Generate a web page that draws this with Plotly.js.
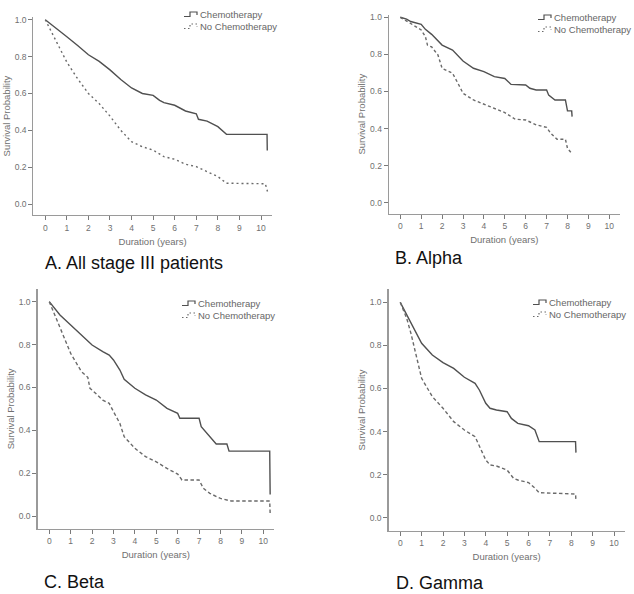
<!DOCTYPE html>
<html>
<head>
<meta charset="utf-8">
<script src="https://cdn.plot.ly/plotly-3.0.1.min.js"></script>
<style>html,body{margin:0;padding:0;background:#fff;}#chart{width:634px;height:594px;}</style>
</head>
<body>
<div id="chart"></div>
<script>
// ---- Data ----
var panelTitles = ["A. All stage III patients", "B. Alpha", "C. Beta", "D. Gamma"];
var seriesNames = ["Chemotherapy", "No Chemotherapy"];
var xTickVals = [0, 1, 2, 3, 4, 5, 6, 7, 8, 9, 10];
var yTickVals = [0.0, 0.2, 0.4, 0.6, 0.8, 1.0];

var aChemoT = [0, 0.45, 1, 1.5, 2, 2.5, 3, 3.5, 4, 4.5, 5, 5.3, 5.5, 6, 6.3, 6.5, 7, 7.1, 7.5, 8, 8.4, 10.28, 10.29];
var aChemoS = [1, 0.96, 0.908, 0.86, 0.81, 0.774, 0.728, 0.676, 0.63, 0.60, 0.59, 0.563, 0.55, 0.536, 0.518, 0.505, 0.49, 0.46, 0.45, 0.42, 0.378, 0.378, 0.29];
var aNoT = [0, 0.5, 1, 1.5, 2, 2.5, 3, 3.5, 4, 4.5, 5, 5.5, 6, 6.5, 7, 7.5, 8, 8.4, 10.2, 10.3];
var aNoS = [1, 0.885, 0.77, 0.68, 0.60, 0.545, 0.477, 0.40, 0.338, 0.311, 0.293, 0.257, 0.243, 0.216, 0.203, 0.176, 0.149, 0.113, 0.11, 0.068];

var bChemoT = [0, 0.3, 0.5, 1, 1.2, 1.5, 2, 2.5, 3, 3.5, 4, 4.5, 5, 5.3, 6, 6.2, 6.5, 7, 7.1, 7.4, 7.9, 7.95, 8.0, 8.2, 8.22];
var bChemoS = [1, 0.99, 0.977, 0.962, 0.935, 0.908, 0.85, 0.823, 0.764, 0.725, 0.707, 0.68, 0.67, 0.638, 0.635, 0.617, 0.608, 0.608, 0.58, 0.554, 0.554, 0.518, 0.495, 0.495, 0.464];
var bNoT = [0, 0.5, 1, 1.2, 1.3, 1.5, 1.8, 2, 2.5, 2.8, 3, 3.5, 4, 4.5, 5, 5.5, 6, 6.5, 7, 7.2, 7.5, 7.9, 8.0, 8.2];
var bNoS = [1, 0.968, 0.932, 0.896, 0.85, 0.84, 0.797, 0.725, 0.698, 0.635, 0.59, 0.554, 0.532, 0.509, 0.486, 0.45, 0.446, 0.42, 0.406, 0.374, 0.342, 0.342, 0.293, 0.266];

var cChemoT = [0, 0.5, 1, 1.5, 1.8, 2, 2.5, 2.8, 3, 3.3, 3.5, 4, 4.5, 5, 5.5, 6, 6.1, 7, 7.1, 7.3, 7.5, 7.7, 7.8, 8.3, 8.4, 10.3, 10.31, 10.32];
var cChemoS = [1, 0.938, 0.891, 0.845, 0.82, 0.798, 0.767, 0.751, 0.728, 0.681, 0.638, 0.596, 0.565, 0.541, 0.502, 0.479, 0.456, 0.456, 0.417, 0.393, 0.37, 0.347, 0.336, 0.336, 0.303, 0.303, 0.191, 0.101];
var cNoT = [0, 0.5, 1, 1.5, 1.8, 1.9, 2, 2.5, 2.8, 3, 3.3, 3.5, 4, 4.5, 5, 5.5, 6, 6.2, 7, 7.2, 7.5, 8, 8.5, 10.3, 10.32];
var cNoS = [1, 0.876, 0.759, 0.674, 0.647, 0.596, 0.588, 0.541, 0.526, 0.487, 0.432, 0.37, 0.316, 0.277, 0.253, 0.222, 0.196, 0.168, 0.168, 0.129, 0.106, 0.082, 0.07, 0.07, 0.012];

var dChemoT = [0, 0.3, 0.5, 1, 1.5, 2, 2.5, 3, 3.5, 3.7, 4, 4.2, 4.5, 5, 5.2, 5.5, 6, 6.3, 6.5, 8.2, 8.22];
var dChemoS = [1, 0.941, 0.902, 0.81, 0.755, 0.72, 0.693, 0.652, 0.624, 0.593, 0.531, 0.508, 0.5, 0.492, 0.461, 0.438, 0.427, 0.407, 0.353, 0.353, 0.302];
var dNoT = [0, 0.3, 0.5, 1, 1.5, 2, 2.5, 3, 3.5, 3.8, 4, 4.2, 4.5, 5, 5.3, 5.5, 6, 6.3, 6.5, 8.2, 8.22];
var dNoS = [1, 0.926, 0.856, 0.647, 0.562, 0.508, 0.446, 0.407, 0.376, 0.314, 0.268, 0.245, 0.24, 0.221, 0.183, 0.175, 0.163, 0.137, 0.116, 0.11, 0.08];

// ---- Layout helpers ----
var W = 634, H = 594;
function px(x) { return x / W; }
function py(y) { return 1 - y / H; }

// plot areas in pixels: [left, right, top, bottom], y-range
var panels = [
  {box: [33.4, 271.8, 17, 215.1], yr: [-0.06, 1.015], dash: "2px,3px",
   chemo: [aChemoT, aChemoS], no: [aNoT, aNoS], title: [43, 263], leg: [184, 14]},
  {box: [388.8, 619.75, 14.5, 213.8], yr: [-0.06, 1.015], dash: "3px,2.5px",
   chemo: [bChemoT, bChemoS], no: [bNoT, bNoS], title: [393, 258], leg: [538, 17]},
  {box: [37.5, 274, 288.8, 528.9], yr: [-0.06, 1.06], dash: "3.5px,2.5px",
   chemo: [cChemoT, cChemoS], no: [cNoT, cNoS], title: [42, 582], leg: [182, 303]},
  {box: [388.5, 624.7, 289.4, 530.6], yr: [-0.06, 1.06], dash: "3.5px,2.5px",
   chemo: [dChemoT, dChemoS], no: [dNoT, dNoS], title: [394, 583], leg: [533, 302]}
];

var axisGray = "#9a9a9a";
var textGray = "#707070";
var solidColor = "#505050";
var dashColor = "#6a6a6a";

var traces = [];
var layout = {
  width: W, height: H,
  margin: {l: 0, r: 0, t: 0, b: 0},
  paper_bgcolor: "#ffffff", plot_bgcolor: "#ffffff",
  showlegend: false,
  font: {family: "Liberation Sans, Arial, sans-serif", color: textGray},
  annotations: [], shapes: []
};

panels.forEach(function (p, i) {
  var n = i === 0 ? "" : String(i + 1);
  var xa = "x" + n, ya = "y" + n;
  traces.push({
    x: p.chemo[0], y: p.chemo[1], xaxis: xa, yaxis: ya, type: "scatter", mode: "lines",
    name: seriesNames[0], line: {color: solidColor, width: 1.4, shape: "linear"}, hoverinfo: "x+y"
  });
  traces.push({
    x: p.no[0], y: p.no[1], xaxis: xa, yaxis: ya, type: "scatter", mode: "lines",
    name: seriesNames[1], line: {color: dashColor, width: 1.4, dash: p.dash, shape: "linear"}, hoverinfo: "x+y"
  });
  var common = {
    showline: true, linecolor: axisGray, linewidth: 1.2, mirror: false,
    showgrid: false, zeroline: false, ticks: "outside", ticklen: 4, tickwidth: 1,
    tickcolor: "#7a7a7a", tickfont: {size: 8.5, color: textGray, family: "Liberation Sans, Arial, sans-serif"},
    automargin: false, fixedrange: true
  };
  layout["xaxis" + n] = Object.assign({}, common, {
    domain: [px(p.box[0]), px(p.box[1])], anchor: ya,
    range: [-0.55, 10.5], tickmode: "array", tickvals: xTickVals,
    title: {text: "Duration (years)", font: {size: 9.5, color: textGray}, standoff: 6}
  });
  layout["yaxis" + n] = Object.assign({}, common, {
    domain: [py(p.box[3]), py(p.box[2])], anchor: xa,
    range: p.yr, tickmode: "array", tickvals: yTickVals, tickformat: ".1f",
    title: {text: "Survival Probability", font: {size: 9.5, color: textGray}, standoff: 2}
  });
  // panel caption
  layout.annotations.push({
    text: panelTitles[i], xref: "paper", yref: "paper",
    x: px(p.title[0]), y: py(p.title[1]), xanchor: "left", yanchor: "middle",
    showarrow: false, font: {size: 18, color: "#111111", family: "Liberation Sans, Arial, sans-serif"}
  });
  // legend text
  var lx = p.leg[0], ly = p.leg[1];
  layout.annotations.push({
    text: seriesNames[0], xref: "paper", yref: "paper", x: px(lx + 15.5), y: py(ly),
    xanchor: "left", yanchor: "middle", showarrow: false, xshift: -2,
    font: {size: 9.5, color: "#666666"}
  });
  layout.annotations.push({
    text: seriesNames[1], xref: "paper", yref: "paper", x: px(lx + 15.5), y: py(ly + 12),
    xanchor: "left", yanchor: "middle", showarrow: false, xshift: -2,
    font: {size: 9.5, color: "#666666"}
  });
  // legend keys (step glyphs)
  var g1 = "M" + px(lx) + "," + py(ly + 2.5) + " L" + px(lx + 6) + "," + py(ly + 2.5) +
           " L" + px(lx + 6) + "," + py(ly - 2) + " L" + px(lx + 13) + "," + py(ly - 2) +
           " L" + px(lx + 13) + "," + py(ly + 1);
  layout.shapes.push({type: "path", xref: "paper", yref: "paper", path: g1,
    line: {color: solidColor, width: 1.2}});
  var g2 = "M" + px(lx) + "," + py(ly + 14.5) + " L" + px(lx + 6) + "," + py(ly + 14.5) +
           " L" + px(lx + 6) + "," + py(ly + 10) + " L" + px(lx + 13) + "," + py(ly + 10) +
           " L" + px(lx + 13) + "," + py(ly + 13);
  layout.shapes.push({type: "path", xref: "paper", yref: "paper", path: g2,
    line: {color: dashColor, width: 1.2, dash: "1.5px,2.5px"}});
});

Plotly.newPlot("chart", traces, layout, {displayModeBar: false, staticPlot: true});
</script>
</body>
</html>
